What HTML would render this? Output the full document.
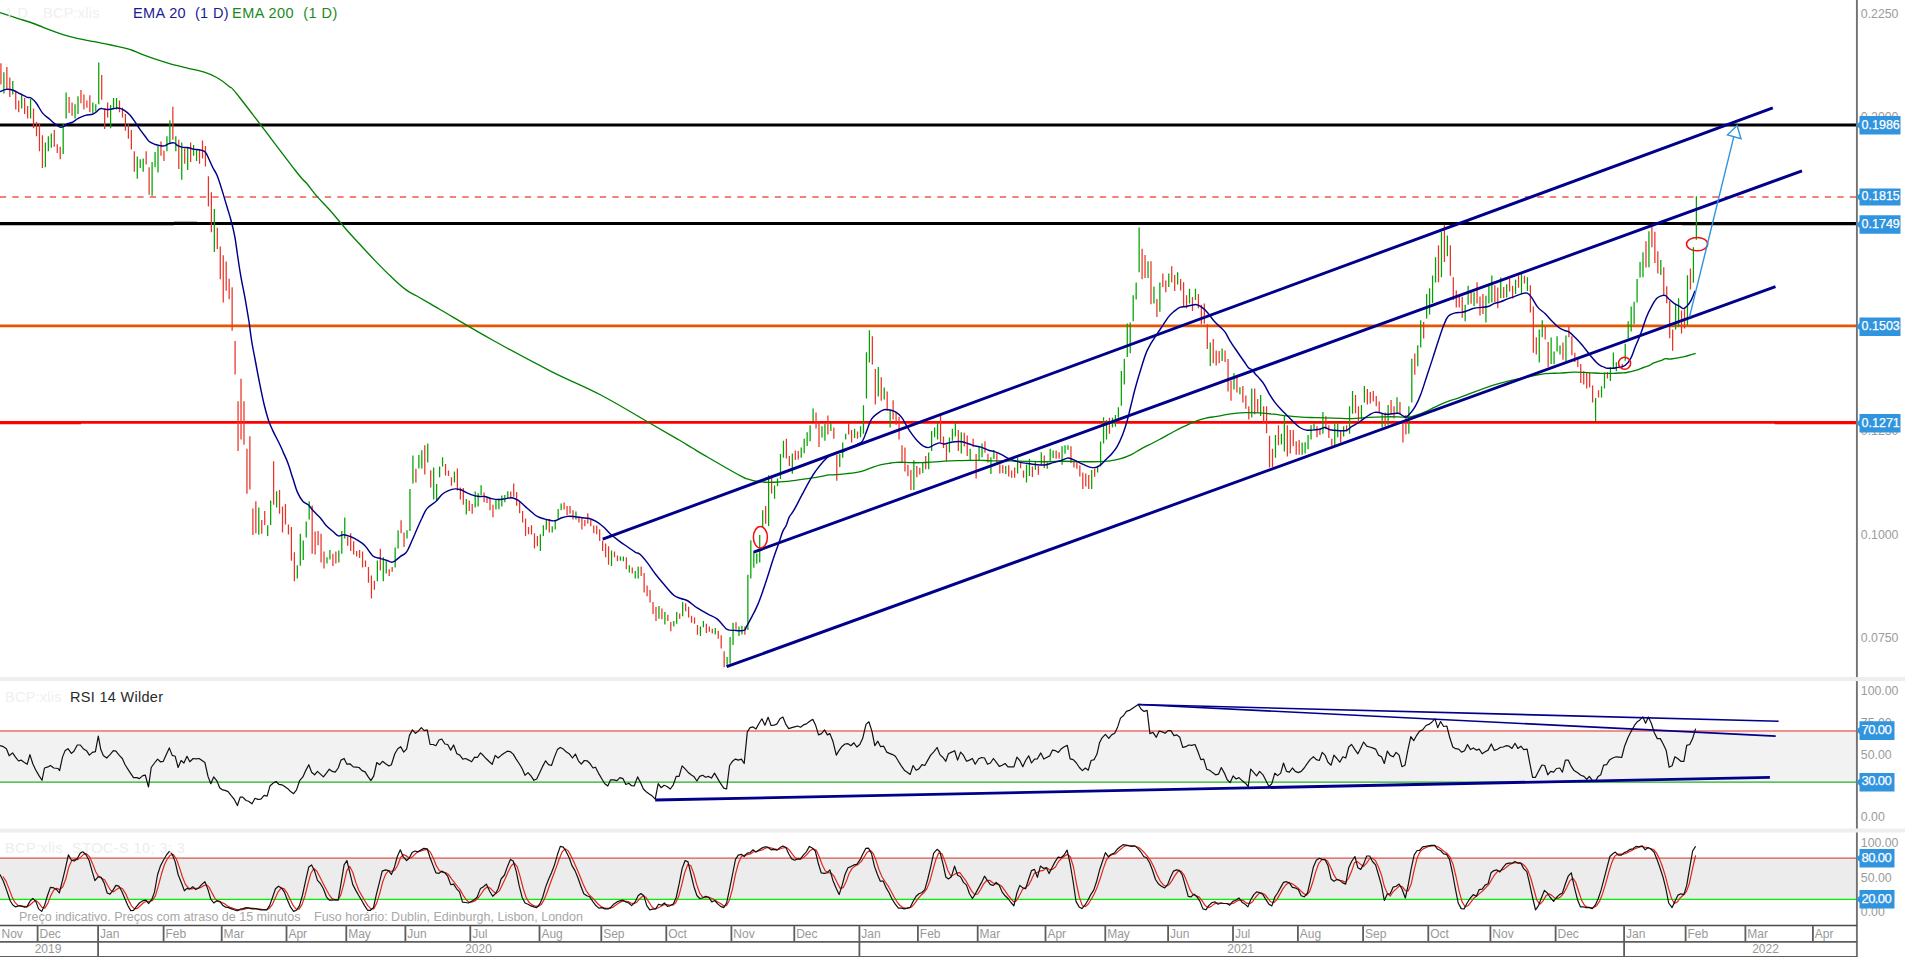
<!DOCTYPE html>
<html lang="pt"><head><meta charset="utf-8"><title>BCP:xlis</title>
<style>html,body{margin:0;padding:0;background:#fff;width:1905px;height:957px;overflow:hidden}</style>
</head><body>
<svg width="1905" height="957" viewBox="0 0 1905 957" style="position:absolute;left:0;top:0">
<rect x="0" y="731" width="1857" height="51" fill="#f2f2f2"/>
<rect x="0" y="858.2" width="1857" height="41.2" fill="#ececec"/>
<path d="M0 731H1857" stroke="#ee6e6a" stroke-width="1.3" fill="none"/>
<path d="M0 782.1H1857" stroke="#22b022" stroke-width="1.3" fill="none"/>
<path d="M0 858.2H1857" stroke="#d9534f" stroke-width="1.3" fill="none"/>
<path d="M0 899.4H1857" stroke="#00f000" stroke-width="1.4" fill="none"/>
<path d="M0 125H1857" stroke="#000" stroke-width="2.9" fill="none"/>
<path d="M0 223.45H1857M0 223.85H174M1681.7 223.85H1857M174 223.15H197" stroke="#000" stroke-width="2.9" fill="none"/>
<path d="M-0.2 196.9H1857" stroke="#ea5a50" stroke-width="1.5" stroke-dasharray="6.3 6.2" fill="none"/>
<path d="M0 325.8H1857" stroke="#e85400" stroke-width="2.7" fill="none"/>
<path d="M0 422.4H1857M0 422.85H81M1774.6 422.85H1857" stroke="#f00" stroke-width="2.8" fill="none"/>
<path d="M0.93 63.3V84.6M6.86 66.9V90.0M9.82 77.5V97.1M15.75 91.7V109.5M18.71 100.6V112.2M24.64 98.0V114.0M27.61 106.0V118.4M33.53 108.6V128.2M36.50 121.9V136.2M39.46 123.7V151.3M42.43 135.3V168.1M54.28 129.9V146.8M57.25 144.2V153.0M60.21 146.8V159.3M69.10 97.1V113.1M72.07 102.4V115.7M80.96 90.0V103.3M83.92 94.4V109.5M86.89 100.6V107.7M89.85 95.3V112.2M101.71 74.9V99.7M104.67 109.5V129.1M107.64 102.4V117.5M119.49 100.6V112.2M122.46 107.7V117.5M125.42 114.0V130.8M128.38 124.6V138.8M131.35 129.9V149.5M134.31 151.3V171.7M146.17 151.3V164.6M149.13 167.2V194.8M160.99 141.5V155.7M163.95 150.4V161.0M172.84 106.8V139.7M178.77 139.7V169.0M184.70 148.6V163.7M190.63 142.4V161.9M199.52 149.5V163.7M202.49 140.6V158.4M205.45 145.9V166.4M208.41 176.2V206.4M211.38 192.2V232.2M217.31 227.7V249.1M220.27 246.4V279.3M223.23 255.3V302.4M226.20 261.5V290.8M229.16 278.7V299.3M232.13 287.2V330.8M235.09 340.9V374.6M238.05 401.3V451.0M241.02 378.7V439.5M243.98 401.3V444.8M246.95 448.7V493.7M249.91 436.3V489.6M252.87 508.4V535.0M255.84 501.3V533.3M261.77 519.9V533.8M264.73 511.1V525.3M273.62 461.3V504.8M279.55 490.1V513.7M282.51 506.6V532.4M285.48 504.0V524.4M288.44 524.4V534.5M291.41 527.0V560.8M294.37 552.3V581.2M312.16 505.4V553.7M315.12 531.5V554.6M318.08 531.0V545.2M321.05 533.8V562.6M324.01 551.6V568.4M332.90 553.7V566.1M335.87 551.6V563.5M347.72 536.8V545.7M350.69 533.3V551.0M353.65 541.3V554.6M356.62 551.0V556.4M359.58 550.1V558.1M362.54 551.6V567.6M365.51 560.4V567.0M368.47 567.0V582.7M371.44 575.4V598.5M374.40 580.7V589.8M380.33 548.7V570.6M389.22 569.3V575.9M392.18 567.0V571.8M401.08 520.3V533.3M404.04 532.4V547.1M415.90 468.8V482.6M424.79 445.3V474.6M430.72 470.2V487.6M445.54 464.0V475.5M448.50 470.6V476.1M451.47 477.3V485.8M457.39 468.4V490.6M460.36 487.6V499.5M463.32 488.0V504.8M469.25 500.4V511.1M472.21 504.0V513.7M484.07 492.4V502.2M487.03 497.7V503.1M490.00 498.6V510.2M492.96 504.8V517.3M510.75 491.5V498.6M513.71 483.5V496.8M516.67 492.1V505.7M519.64 501.3V513.2M522.60 511.1V522.6M525.57 518.5V535.9M528.53 527.0V534.2M531.49 525.3V534.5M534.46 533.3V548.4M537.42 535.9V546.2M549.28 519.1V532.4M564.10 502.5V509.6M567.06 506.1V515.5M570.03 506.1V513.7M572.99 510.2V519.4M578.92 516.4V522.6M581.88 518.2V529.4M584.85 519.9V526.2M587.81 513.2V523.5M590.78 519.9V526.2M593.74 525.6V533.3M596.70 525.6V534.2M599.67 529.2V540.9M602.63 540.4V551.0M605.60 543.4V557.2M608.56 546.2V564.7M614.49 551.6V557.2M617.45 555.5V561.2M626.34 557.2V569.3M632.27 567.6V573.6M641.16 566.5V575.9M644.13 573.1V592.6M647.09 585.5V596.2M650.06 589.9V602.4M653.02 602.0V613.9M655.99 606.8V621.0M661.91 608.6V619.3M667.84 614.8V621.0M670.81 621.9V631.2M679.70 613.4V618.7M685.63 603.3V611.3M688.59 606.8V617.5M691.55 615.7V622.8M694.52 617.5V623.7M697.48 625.1V634.7M706.37 623.7V632.9M709.34 626.4V631.7M712.30 628.7V633.5M718.23 630.8V638.8M721.19 635.2V648.6M724.16 651.2V667.2M736.01 622.3V629.4M744.91 626.4V634.7M765.65 506.1V523.7M771.58 475.3V493.5M786.40 438.7V458.6M789.37 455.9V466.0M795.30 450.6V460.0M798.26 451.1V459.5M816.04 412.4V428.4M819.01 421.3V447.0M827.90 415.6V434.6M833.83 427.5V438.7M836.79 454.7V480.8M848.65 423.0V434.6M851.61 430.1V442.6M857.54 431.6V438.7M872.36 336.3V364.4M875.32 368.9V404.4M881.25 377.2V400.8M887.18 391.4V410.6M893.11 400.3V419.5M896.07 412.4V424.8M899.04 416.8V439.4M902.00 445.2V462.1M904.97 447.6V471.4M907.93 464.8V476.3M910.89 470.1V490.0M916.82 466.0V477.2M919.79 467.8V474.6M925.71 455.9V469.2M940.53 415.9V442.6M943.50 436.4V447.9M946.46 444.4V461.2M958.32 430.1V451.1M964.25 432.8V446.5M967.21 435.5V455.9M973.14 438.7V447.0M976.10 454.1V478.5M984.99 441.3V452.8M987.96 453.7V462.6M996.85 451.9V462.6M999.81 464.4V473.6M1002.78 465.2V473.2M1008.71 465.2V476.4M1011.67 470.6V477.7M1014.64 467.6V477.7M1020.56 461.7V468.3M1023.53 470.6V477.7M1032.42 466.5V477.1M1038.35 466.1V474.7M1044.28 455.5V467.9M1056.13 450.5V458.7M1059.10 452.3V458.7M1070.95 446.2V462.9M1073.92 460.8V467.6M1076.88 461.2V468.8M1079.84 465.2V476.4M1082.81 472.4V488.9M1085.77 473.6V486.6M1088.74 475.0V488.9M1094.66 468.8V476.8M1109.48 417.8V433.8M1142.09 248.8V279.3M1145.05 255.0V278.1M1150.98 261.2V304.2M1156.91 298.9V317.1M1162.84 273.6V286.9M1165.80 280.4V292.3M1171.73 266.2V282.5M1174.69 275.0V291.0M1180.62 279.0V290.5M1183.59 282.2V306.5M1186.55 295.3V308.3M1192.48 297.1V310.9M1198.41 294.1V308.3M1201.37 304.7V324.3M1204.33 303.5V323.7M1207.30 324.3V349.1M1213.23 339.0V363.3M1216.19 350.4V365.6M1219.15 350.9V363.3M1225.08 350.4V362.1M1228.05 359.1V391.4M1231.01 380.4V400.8M1236.94 376.8V392.5M1242.87 386.1V402.6M1245.83 395.5V408.8M1248.80 406.2V419.5M1254.72 388.4V414.2M1257.69 399.1V412.4M1263.62 406.2V423.0M1266.58 406.2V433.3M1269.54 435.8V467.5M1272.51 448.8V467.1M1278.44 425.2V445.2M1287.33 425.2V456.4M1290.29 430.1V453.6M1293.26 430.1V446.1M1296.22 441.2V454.7M1299.18 439.9V454.7M1316.97 426.2V437.2M1319.93 428.4V435.1M1325.86 416.3V429.3M1328.82 425.2V438.1M1331.79 438.7V445.8M1340.68 431.0V442.6M1346.61 425.2V431.6M1355.50 395.0V413.3M1358.46 406.2V422.7M1367.36 388.9V404.4M1370.32 391.9V403.5M1373.29 391.1V401.4M1376.25 396.0V406.2M1379.21 401.4V412.4M1385.14 412.4V426.2M1391.07 399.9V414.2M1394.03 406.2V418.6M1399.96 402.1V413.8M1402.93 423.9V442.6M1405.89 415.0V434.6M1414.78 353.4V374.7M1423.67 321.9V338.5M1438.49 245.2V282.2M1444.42 224.8V262.1M1450.35 245.2V275.8M1453.31 277.2V299.9M1456.28 290.5V307.4M1459.24 295.8V307.4M1462.21 296.7V317.7M1471.10 292.3V303.8M1477.03 282.2V303.5M1479.99 296.4V315.4M1482.95 294.1V314.1M1494.81 285.2V302.0M1497.78 287.5V308.3M1503.70 286.9V298.1M1509.63 279.0V291.4M1512.60 285.7V298.5M1518.52 275.4V287.8M1524.45 275.8V283.4M1530.38 285.2V312.4M1533.34 306.5V352.7M1536.31 337.2V354.5M1545.20 326.6V339.4M1548.16 342.0V366.9M1562.98 342.6V359.8M1568.91 326.9V337.2M1571.88 336.2V355.3M1574.84 352.7V362.1M1577.80 358.5V366.9M1580.77 363.9V382.9M1583.73 371.2V384.5M1586.70 372.5V388.5M1589.66 372.5V387.5M1592.62 385.4V402.6M1598.55 390.3V397.4M1607.45 372.1V378.6M1619.30 365.9V368.3M1622.27 364.0V367.5M1645.98 241.3V267.4M1651.91 226.4V247.2M1654.87 231.7V263.1M1657.83 251.2V273.4M1663.76 267.2V295.1M1666.73 286.2V303.3M1669.69 301.0V338.2M1672.65 329.4V350.7M1681.55 310.4V333.4M1684.51 309.3V328.5M1690.44 268.5V289.4" stroke="#ea3328" stroke-width="1.25" fill="none"/>
<path d="M3.89 72.2V93.5M12.79 81.1V94.4M21.68 94.4V108.6M30.57 98.9V118.4M45.39 142.4V167.2M48.35 136.2V151.3M51.32 133.5V147.7M63.18 123.7V153.9M66.14 92.6V118.4M75.03 104.2V118.4M78.00 96.2V114.0M92.82 102.4V113.1M95.78 104.2V111.3M98.74 62.4V104.2M110.60 105.1V128.2M113.56 98.0V108.6M116.53 98.0V109.5M137.28 156.6V178.8M140.24 159.3V168.1M143.20 158.4V171.7M152.10 161.9V195.7M155.06 152.1V167.2M158.02 145.9V172.6M166.92 136.2V151.3M169.88 120.2V144.2M175.81 136.2V151.3M181.74 142.4V179.7M187.67 146.8V169.9M193.59 145.0V155.7M196.56 149.5V161.0M214.34 209.1V252.1M258.80 507.5V534.7M267.69 525.3V535.9M270.66 500.4V524.9M276.59 491.2V507.5M297.33 565.2V578.6M300.30 533.8V565.8M303.26 540.4V559.9M306.23 521.4V537.4M309.19 501.3V519.6M326.98 557.2V563.5M329.94 550.1V559.4M338.83 550.5V562.6M341.80 531.0V553.7M344.76 517.6V538.6M377.36 560.4V581.2M383.29 557.2V581.2M386.26 561.2V573.6M395.15 547.5V567.6M398.11 530.2V548.4M407.00 530.2V538.6M409.97 488.9V531.0M412.93 455.6V483.5M418.86 455.1V468.4M421.83 450.3V468.4M427.75 443.6V462.6M433.68 467.5V499.5M436.65 484.1V500.0M439.61 466.6V477.3M442.57 457.2V466.6M454.43 471.6V482.6M466.29 499.0V514.6M475.18 491.5V507.5M478.14 493.3V506.6M481.11 485.3V495.1M495.93 499.5V509.6M498.89 498.6V509.3M501.85 495.4V506.6M504.82 495.1V502.2M507.78 491.2V498.3M540.39 534.2V551.0M543.35 525.3V535.9M546.32 519.9V529.7M552.24 526.2V532.4M555.21 520.8V529.4M558.17 508.9V519.9M561.14 503.6V510.2M575.96 511.4V519.6M611.52 550.5V566.1M620.42 556.4V560.8M623.38 556.4V561.2M629.31 565.2V572.4M635.24 571.1V578.6M638.20 566.5V578.6M658.95 605.9V618.7M664.88 612.1V624.6M673.77 621.0V626.4M676.73 612.1V623.7M682.66 602.0V616.2M700.45 626.4V636.1M703.41 621.0V627.2M715.27 628.1V634.4M727.12 657.1V666.7M730.09 637.0V663.7M733.05 622.8V645.0M738.98 626.4V636.1M741.94 625.8V634.4M747.87 574.8V629.9M750.83 540.2V578.4M753.80 551.7V567.7M756.76 553.5V563.7M759.73 534.9V562.4M762.69 510.2V527.3M768.62 475.3V526.0M774.55 485.5V498.7M777.51 478.6V486.2M780.48 454.1V479.0M783.44 440.8V457.7M792.33 453.6V473.7M801.22 447.6V457.7M804.19 438.7V453.2M807.15 432.3V446.1M810.12 425.2V441.2M813.08 408.5V421.3M821.97 426.2V437.6M824.94 423.9V440.8M830.86 423.0V431.0M839.76 454.1V467.1M842.72 442.6V457.7M845.68 433.7V439.4M854.58 428.7V438.1M860.50 426.2V437.2M863.47 405.3V433.7M866.43 352.3V398.5M869.40 330.3V362.6M878.29 367.1V396.4M884.22 387.5V399.6M890.14 410.6V427.5M913.86 460.3V490.0M922.75 463.0V473.1M928.68 452.4V469.2M931.64 431.0V451.1M934.61 427.5V437.2M937.57 422.7V439.4M949.43 437.6V452.4M952.39 428.7V440.8M955.35 422.7V436.4M961.28 432.3V453.6M970.17 448.8V460.3M979.07 447.0V460.3M982.03 443.4V457.2M990.92 457.2V474.1M993.89 450.1V459.0M1005.74 466.1V474.1M1017.60 458.1V473.6M1026.49 464.4V482.5M1029.46 458.7V475.9M1035.38 460.8V469.7M1041.31 452.3V465.2M1047.24 462.6V468.8M1050.20 448.7V462.2M1053.17 450.5V458.1M1062.06 446.2V464.7M1065.02 445.2V453.7M1067.99 445.2V450.1M1091.70 470.0V488.9M1097.63 465.8V472.4M1100.59 441.6V466.5M1103.56 417.3V443.4M1106.52 419.9V439.5M1112.45 417.8V427.4M1115.41 415.0V426.7M1118.38 407.2V417.8M1121.34 371.1V405.7M1124.30 358.7V384.4M1127.27 323.4V357.1M1130.23 322.5V353.2M1133.20 295.3V321.2M1136.16 282.5V299.4M1139.13 227.4V272.2M1148.02 261.2V278.1M1153.95 286.4V303.5M1159.87 282.5V311.8M1168.77 273.6V286.9M1177.66 272.2V284.6M1189.51 288.7V303.5M1195.44 288.7V299.9M1210.26 342.6V366.0M1222.12 348.6V361.0M1233.97 373.3V389.6M1239.90 387.2V394.3M1251.76 388.4V417.4M1260.65 395.0V415.9M1275.47 435.1V457.7M1281.40 433.7V444.4M1284.36 415.0V451.5M1302.15 442.6V454.7M1305.11 442.2V453.6M1308.08 435.1V449.3M1311.04 425.2V439.4M1314.00 423.4V430.1M1322.90 412.0V433.7M1334.75 423.4V445.2M1337.72 423.4V437.2M1343.64 426.2V436.4M1349.57 406.2V433.7M1352.54 391.1V413.8M1361.43 404.9V419.5M1364.39 386.1V402.6M1382.18 413.8V427.5M1388.11 404.9V424.8M1397.00 397.3V413.3M1408.85 406.2V433.7M1411.82 358.7V402.6M1417.75 345.2V366.2M1420.71 320.2V347.4M1426.64 294.1V318.4M1429.60 288.2V314.5M1432.57 275.4V302.9M1435.53 257.3V282.5M1441.46 231.9V277.2M1447.39 235.4V256.2M1465.17 304.7V321.2M1468.13 285.7V304.7M1474.06 292.3V306.0M1485.92 295.8V322.5M1488.88 286.1V303.5M1491.85 275.4V302.4M1500.74 277.5V298.1M1506.67 284.3V297.6M1515.56 279.8V294.1M1521.49 274.0V293.2M1527.42 277.2V291.0M1539.27 329.6V362.5M1542.24 320.2V337.2M1551.13 337.6V363.9M1554.09 351.4V364.2M1557.06 336.2V351.4M1560.02 345.6V354.5M1565.95 335.4V361.0M1595.59 397.9V421.0M1601.52 386.3V397.6M1604.48 372.5V388.5M1610.41 367.2V381.0M1613.37 352.6V368.3M1616.34 362.3V371.2M1625.23 343.8V360.7M1628.19 321.2V338.5M1631.16 306.5V331.4M1634.12 301.7V324.3M1637.09 279.0V302.4M1640.05 262.1V277.5M1643.01 252.3V277.2M1648.94 231.2V267.2M1660.80 260.1V274.9M1675.62 304.5V329.4M1678.58 298.3V326.7M1687.47 275.2V324.9M1693.40 247.2V282.7M1696.37 196.2V239.7" stroke="#00a400" stroke-width="1.25" fill="none"/>
<path d="M0.0 12.6C3.0 13.6 10.8 16.1 16.8 18.1C22.8 20.1 27.6 21.3 33.6 23.5C39.6 25.7 45.0 28.1 50.4 30.2C55.8 32.3 59.0 33.4 63.8 34.9C68.6 36.4 71.9 37.1 77.3 38.3C82.7 39.5 88.0 40.5 94.0 41.7C100.0 42.9 105.1 43.8 110.9 45.0C116.7 46.2 122.3 47.5 126.0 48.4C129.7 49.3 128.6 48.9 131.5 50.0C134.4 51.1 138.0 52.8 142.1 54.4C146.3 56.0 149.8 57.3 154.6 58.9C159.4 60.5 163.0 61.7 168.8 63.3C174.5 64.9 180.1 66.2 186.5 67.8C192.9 69.4 198.9 70.4 204.3 72.2C209.7 74.0 212.3 75.0 216.7 77.5C221.2 80.1 225.0 82.7 229.2 86.4C233.4 90.1 228.1 82.9 240.0 98.0C251.9 113.0 283.1 154.6 295.0 170.0C307.0 185.4 302.6 178.5 306.6 183.3C310.6 188.1 313.1 191.9 317.2 196.6C321.4 201.4 325.5 205.3 329.7 210.0C333.8 214.6 336.5 217.9 340.3 222.4C344.2 226.9 346.8 230.2 351.0 234.8C355.2 239.5 359.1 243.5 363.4 248.2C367.8 252.8 370.0 255.5 375.0 260.6C379.9 265.7 385.4 271.3 391.0 276.6C396.6 281.9 401.1 286.2 406.1 289.9C411.0 293.6 414.0 294.5 418.5 297.0C423.0 299.6 427.1 301.9 430.9 304.1C434.8 306.4 428.9 303.0 440.0 309.5C451.1 315.9 472.4 328.9 492.4 340.0C512.4 351.1 531.5 361.4 551.0 371.3C570.5 381.2 582.9 385.6 600.8 395.0C618.7 404.4 636.4 415.4 650.5 423.5C664.6 431.6 671.5 435.6 679.1 440.0C686.6 444.4 687.7 445.2 692.4 448.0C697.1 450.8 696.4 450.7 705.0 455.6C713.6 460.6 732.1 471.4 740.0 475.6C747.9 479.9 745.5 478.3 748.9 479.4C752.3 480.5 755.0 481.0 758.7 481.6C762.3 482.1 765.4 482.3 769.3 482.4C773.2 482.4 776.1 482.2 780.4 481.9C784.7 481.6 788.4 481.3 793.3 480.7C798.2 480.1 804.3 479.1 807.5 478.6C810.7 478.2 808.8 478.6 811.0 478.2C813.2 477.8 816.7 477.3 819.9 476.7C823.1 476.1 826.6 475.2 828.8 474.9C831.0 474.6 829.2 475.1 832.4 474.9C835.6 474.7 841.5 474.3 846.6 473.7C851.6 473.1 856.2 472.6 860.4 471.6C864.6 470.6 866.1 469.6 869.7 468.3C873.3 467.1 876.5 465.7 880.3 464.8C884.2 463.8 887.5 463.5 891.0 463.0C894.5 462.5 896.4 462.2 899.9 462.1C903.4 462.1 906.7 462.6 910.5 462.7C914.4 462.8 917.4 462.8 921.2 462.7C925.0 462.6 927.7 462.4 931.9 462.1C936.0 461.9 939.8 461.5 944.3 461.2C948.8 461.0 952.3 460.9 956.7 460.7C961.2 460.5 965.0 460.4 969.2 460.3C973.4 460.3 975.8 460.3 980.0 460.3C984.3 460.4 987.3 460.7 992.8 460.8C998.3 460.9 1004.1 460.7 1010.5 460.8C1016.9 460.9 1021.9 461.2 1028.3 461.3C1034.7 461.5 1039.7 461.7 1046.1 461.7C1052.5 461.7 1057.4 461.2 1063.8 461.2C1070.2 461.2 1075.2 461.6 1081.6 461.7C1088.0 461.8 1094.2 461.9 1099.4 461.7C1104.5 461.5 1106.2 461.3 1110.0 460.8C1113.9 460.3 1116.8 459.8 1120.7 458.7C1124.5 457.6 1127.5 456.4 1131.3 454.6C1135.2 452.7 1138.2 450.4 1142.0 448.4C1145.8 446.3 1148.8 445.0 1152.7 443.0C1156.5 441.1 1159.5 439.4 1163.3 437.4C1167.1 435.3 1170.1 433.5 1174.0 431.5C1177.8 429.5 1180.8 428.0 1184.6 426.2C1188.5 424.3 1191.5 422.8 1195.3 421.4C1199.1 419.9 1202.4 419.0 1205.9 418.2C1209.5 417.3 1212.5 417.1 1215.0 416.7C1217.5 416.3 1217.2 416.5 1220.0 415.9C1222.8 415.4 1226.2 414.4 1230.7 413.8C1235.1 413.2 1239.8 412.9 1244.9 412.7C1250.0 412.6 1254.0 412.7 1259.1 412.9C1264.2 413.2 1268.2 413.6 1273.3 414.2C1278.4 414.7 1282.4 415.4 1287.5 415.9C1292.6 416.5 1296.6 416.9 1301.7 417.2C1306.8 417.5 1310.2 417.5 1315.9 417.7C1321.7 417.9 1327.3 417.9 1333.7 418.1C1340.1 418.2 1345.1 418.7 1351.5 418.6C1357.9 418.5 1363.5 417.7 1369.2 417.4C1375.0 417.0 1378.3 416.9 1383.4 416.8C1388.6 416.7 1393.2 416.7 1397.7 416.8C1402.1 416.9 1404.8 417.7 1408.3 417.4C1411.8 417.0 1413.7 416.3 1417.2 415.0C1420.7 413.8 1424.0 412.4 1427.9 410.6C1431.7 408.8 1434.7 407.0 1438.5 405.3C1442.3 403.5 1445.3 402.3 1449.2 400.8C1453.1 399.4 1451.8 400.3 1460.3 397.3C1468.7 394.3 1483.3 388.2 1496.0 384.4C1508.7 380.6 1522.0 378.2 1530.8 376.3C1539.6 374.4 1539.8 374.2 1545.0 373.6C1550.2 373.1 1554.5 373.4 1559.6 373.2C1564.7 372.9 1568.4 372.3 1573.4 372.2C1578.3 372.1 1582.2 372.4 1587.1 372.6C1592.1 372.8 1596.3 373.1 1600.9 373.3C1605.6 373.4 1608.9 373.4 1612.9 373.4C1616.9 373.3 1620.7 372.9 1623.2 372.8C1625.6 372.6 1624.5 372.9 1626.6 372.5C1628.7 372.1 1631.6 371.5 1634.7 370.6C1637.7 369.7 1640.8 368.5 1643.6 367.5C1646.3 366.5 1648.3 365.9 1650.0 365.1C1651.8 364.3 1651.1 364.1 1653.3 363.2C1655.5 362.3 1659.9 360.9 1662.1 360.1C1664.3 359.3 1663.9 358.8 1665.5 358.6C1667.1 358.5 1667.8 359.3 1671.0 359.0C1674.2 358.7 1678.8 357.9 1683.3 356.9C1687.7 355.9 1693.4 354.0 1695.7 353.3" stroke="#008000" stroke-width="1.35" fill="none" stroke-linejoin="round"/>
<path d="M0.0 91.7C1.1 91.3 4.0 89.8 6.2 89.4C8.5 89.1 10.0 89.2 12.4 90.0C14.8 90.7 17.0 92.2 19.5 93.5C22.1 94.8 24.6 96.3 26.6 97.1C28.7 97.9 29.3 96.8 31.1 98.0C32.8 99.1 34.3 100.6 36.4 103.3C38.5 106.0 40.2 110.2 42.6 113.1C45.0 115.9 47.3 117.2 49.7 119.3C52.1 121.4 54.0 123.2 56.0 124.6C57.9 126.1 59.0 127.0 60.4 127.3C61.8 127.6 62.7 127.0 64.0 126.4C65.2 125.8 66.1 124.4 67.5 123.7C68.9 123.0 70.0 123.4 71.9 122.5C73.9 121.5 75.8 119.7 78.2 118.4C80.6 117.1 82.7 116.1 85.3 115.4C87.8 114.6 90.5 114.9 92.4 114.3C94.3 113.7 94.7 113.1 95.9 112.2C97.2 111.2 98.4 109.6 99.5 109.0C100.6 108.3 100.9 108.5 102.1 108.6C103.4 108.7 105.0 109.4 106.6 109.5C108.2 109.6 109.3 109.4 111.0 109.2C112.8 108.9 114.6 108.2 116.4 108.1C118.1 108.0 119.4 108.2 120.8 108.6C122.2 109.0 122.8 109.3 124.4 110.4C126.0 111.5 127.8 112.8 129.7 114.8C131.6 116.9 133.1 119.2 135.0 121.9C136.9 124.7 138.4 127.2 140.3 129.9C142.3 132.7 144.1 135.0 145.7 137.0C147.3 139.1 147.6 140.2 149.2 141.5C150.8 142.8 152.6 143.4 154.6 144.2C156.5 144.9 158.1 145.3 159.9 145.6C161.6 145.9 162.7 146.3 164.3 145.9C165.9 145.6 167.0 144.2 168.8 143.6C170.5 143.1 172.5 142.6 174.1 142.9C175.7 143.3 176.1 144.8 177.7 145.6C179.3 146.4 181.1 147.0 183.0 147.4C184.9 147.7 186.4 147.4 188.3 147.7C190.2 148.0 191.7 148.7 193.6 149.1C195.6 149.5 197.1 149.5 199.0 149.8C200.9 150.2 202.9 150.4 204.3 151.3C205.7 152.2 205.5 152.0 207.0 154.8C208.4 157.6 210.6 163.2 212.4 166.8C214.1 170.5 215.1 170.8 216.8 174.8C218.5 178.8 219.9 183.3 221.7 189.1C223.5 194.8 225.3 201.2 227.0 206.8C228.7 212.4 229.6 215.1 231.0 220.3C232.4 225.5 233.5 229.8 234.6 235.7C235.8 241.7 236.2 246.1 237.3 253.5C238.4 260.9 239.4 268.3 240.9 276.6C242.3 284.9 243.9 291.7 245.3 299.7C246.7 307.7 247.7 313.7 248.9 321.0C250.0 328.3 250.4 333.1 251.5 340.0C252.6 346.9 253.6 351.9 255.1 359.5C256.5 367.2 257.9 374.6 259.5 382.6C261.1 390.6 262.4 397.2 264.0 404.0C265.6 410.7 266.8 415.1 268.4 419.9C270.0 424.7 270.8 426.1 272.8 430.6C274.9 435.1 278.1 440.9 279.9 444.8C281.8 448.7 281.9 449.2 283.3 452.4C284.7 455.7 286.1 458.0 287.8 462.8C289.6 467.6 291.3 473.8 293.1 479.1C294.8 484.4 295.7 488.4 297.5 492.4C299.3 496.4 300.9 499.1 302.8 501.3C304.8 503.5 306.2 503.1 308.2 504.8C310.1 506.6 311.3 508.7 313.5 511.1C315.7 513.5 318.4 515.6 320.6 518.2C322.8 520.7 323.7 522.9 325.9 525.3C328.2 527.7 330.8 529.6 333.0 531.5C335.3 533.4 336.4 535.4 338.4 535.9C340.3 536.5 341.5 534.5 343.7 534.7C345.9 534.8 348.2 535.8 350.8 536.8C353.4 537.8 355.4 538.8 357.9 540.4C360.5 542.0 362.8 543.5 365.0 545.7C367.3 547.9 368.7 550.8 370.3 552.8C371.9 554.8 372.0 555.7 373.9 556.7C375.8 557.8 378.8 558.0 381.0 558.7C383.2 559.3 384.4 559.6 386.3 560.3C388.3 560.9 390.1 562.1 391.7 562.2C393.3 562.3 393.6 561.9 395.2 560.8C396.8 559.7 398.6 557.8 400.5 556.4C402.5 554.9 404.3 554.6 405.9 552.8C407.5 551.0 407.8 549.9 409.4 546.6C411.0 543.2 412.5 539.3 414.8 534.2C417.0 529.0 419.6 522.8 421.9 518.2C424.1 513.5 424.6 511.4 427.2 508.4C429.8 505.4 433.4 503.8 436.1 501.3C438.8 498.7 440.1 496.1 442.3 494.2C444.5 492.3 446.3 491.6 448.5 490.6C450.7 489.7 452.5 489.0 454.7 488.9C457.0 488.7 459.1 489.2 460.9 489.7C462.8 490.3 463.2 491.0 465.0 491.9C466.8 492.8 468.5 493.8 471.1 494.6C473.6 495.5 476.8 496.2 479.2 496.5C481.6 496.8 482.3 496.1 484.5 496.5C486.8 496.9 489.1 498.1 491.6 498.6C494.2 499.2 496.2 499.5 498.8 499.5C501.3 499.5 503.5 498.9 505.9 498.6C508.3 498.3 509.8 497.4 512.1 497.7C514.3 498.1 515.9 498.8 518.3 500.4C520.7 502.0 522.8 504.4 525.4 506.6C528.0 508.9 530.3 511.0 532.5 512.8C534.7 514.7 535.6 515.6 537.8 516.7C540.1 517.9 542.4 518.3 544.9 519.1C547.5 519.8 550.0 520.6 552.0 520.8C554.1 521.1 554.7 520.8 556.5 520.3C558.2 519.8 559.7 518.5 561.8 517.8C563.9 517.1 565.6 516.6 568.0 516.4C570.4 516.2 572.6 516.5 575.1 516.7C577.7 517.0 579.7 517.5 582.2 517.8C584.8 518.1 586.8 517.8 589.4 518.5C591.9 519.2 593.9 520.2 596.5 521.7C599.0 523.3 601.0 524.8 603.6 527.0C606.1 529.3 607.8 531.6 610.7 534.2C613.6 536.7 616.4 538.9 619.6 541.3C622.8 543.7 625.6 545.5 628.4 547.5C631.3 549.5 633.5 551.0 635.5 552.3C637.6 553.5 637.9 552.5 640.0 554.3C642.1 556.1 644.2 558.7 647.1 562.4C650.0 566.1 652.8 570.7 656.0 574.8C659.2 579.0 661.7 581.8 664.9 585.5C668.1 589.2 670.9 592.9 673.8 595.3C676.6 597.6 678.3 597.4 680.9 598.5C683.4 599.5 685.1 599.3 688.0 601.0C690.8 602.6 693.3 605.4 696.8 607.7C700.4 610.0 704.0 612.0 707.5 613.9C711.0 615.8 713.8 616.6 716.4 618.4C718.9 620.1 719.8 621.7 721.7 623.7C723.6 625.7 724.8 628.2 727.0 629.4C729.3 630.6 731.1 630.3 734.2 630.4C737.2 630.6 741.7 631.2 743.9 630.4C746.2 629.7 745.2 628.9 746.6 626.4C748.0 623.9 750.0 620.3 751.9 616.6C753.8 612.9 755.3 610.4 757.2 605.9C759.2 601.5 760.7 597.2 762.6 591.7C764.5 586.3 766.0 581.6 767.9 575.7C769.8 569.8 771.3 564.6 773.2 558.9C775.2 553.1 776.8 548.7 778.6 543.8C780.3 538.8 781.4 534.7 782.8 531.4C784.2 528.1 785.0 528.1 786.2 525.5C787.4 522.9 787.8 519.9 789.2 517.1C790.6 514.4 791.6 514.3 793.9 510.2C796.3 506.1 799.1 500.2 802.2 494.4C805.3 488.6 808.5 482.5 811.1 478.1C813.6 473.7 814.2 473.2 816.4 470.1C818.6 467.1 820.9 464.0 823.5 461.2C826.1 458.5 828.2 456.6 830.6 455.0C833.0 453.4 834.6 453.0 836.8 452.4C839.1 451.7 840.6 452.3 843.0 451.5C845.4 450.7 847.6 449.2 850.1 447.9C852.7 446.6 855.0 445.6 857.2 444.4C859.5 443.1 860.8 443.4 862.6 440.8C864.3 438.2 865.4 434.0 867.0 430.1C868.6 426.2 869.5 422.2 871.5 419.1C873.4 416.1 875.4 415.0 877.7 413.3C879.9 411.6 881.5 410.3 883.9 409.7C886.3 409.2 888.8 409.8 891.0 410.2C893.2 410.7 894.4 411.1 896.3 412.4C898.3 413.7 899.7 414.8 901.7 417.4C903.6 419.9 905.1 423.5 907.0 426.6C908.9 429.7 910.4 432.0 912.3 434.6C914.2 437.2 915.7 439.1 917.7 441.2C919.6 443.2 921.1 444.6 923.0 445.8C924.9 446.9 926.4 447.6 928.3 447.6C930.2 447.5 931.7 446.1 933.6 445.2C935.6 444.4 937.1 443.2 939.0 442.9C940.9 442.7 942.4 444.1 944.3 444.0C946.2 443.9 947.7 443.0 949.6 442.6C951.5 442.2 952.7 441.9 955.0 441.7C957.2 441.5 959.5 441.3 962.1 441.7C964.6 442.1 966.9 443.3 969.2 444.0C971.4 444.7 972.4 445.2 974.5 445.8C976.6 446.3 978.4 446.2 981.1 447.1C983.7 447.9 986.8 449.7 989.2 450.5C991.6 451.3 992.3 450.8 994.5 451.6C996.8 452.3 999.1 453.3 1001.6 454.6C1004.2 455.9 1006.2 457.5 1008.8 458.7C1011.3 459.9 1013.3 460.4 1015.9 461.2C1018.4 461.9 1020.4 462.5 1023.0 462.9C1025.5 463.4 1027.5 463.5 1030.1 463.8C1032.6 464.1 1034.3 464.6 1037.2 464.7C1040.1 464.9 1043.2 465.1 1046.1 464.7C1048.9 464.3 1050.6 463.3 1053.2 462.6C1055.7 461.9 1057.7 461.6 1060.3 460.8C1062.8 460.0 1065.1 458.4 1067.4 458.1C1069.6 457.9 1070.5 458.5 1072.7 459.4C1074.9 460.2 1077.3 461.7 1079.8 462.9C1082.4 464.1 1084.7 465.3 1086.9 466.1C1089.2 467.0 1090.5 467.4 1092.2 467.6C1094.0 467.7 1095.1 467.8 1096.7 467.2C1098.3 466.6 1099.4 465.8 1101.1 464.4C1102.9 462.9 1104.5 460.9 1106.5 459.0C1108.4 457.1 1109.9 455.9 1111.8 453.7C1113.7 451.5 1115.2 449.9 1117.1 446.6C1119.0 443.2 1120.7 439.5 1122.5 435.0C1124.2 430.6 1125.3 427.3 1126.9 421.7C1128.5 416.1 1129.7 410.3 1131.3 404.0C1132.9 397.6 1134.0 392.5 1135.8 386.2C1137.5 379.9 1139.0 375.0 1140.9 369.0C1142.8 362.9 1144.4 357.2 1146.3 352.6C1148.1 347.9 1149.1 346.7 1151.1 343.2C1153.2 339.7 1155.5 336.4 1157.6 333.1C1159.8 329.9 1161.0 328.0 1163.0 325.1C1164.9 322.3 1166.4 319.5 1168.3 317.1C1170.2 314.8 1171.5 313.6 1173.6 311.8C1175.7 310.1 1177.6 308.3 1179.8 307.4C1182.1 306.4 1184.0 306.9 1186.1 306.5C1188.1 306.1 1189.5 305.6 1191.4 305.2C1193.3 304.9 1194.8 304.3 1196.7 304.7C1198.6 305.1 1200.1 306.0 1202.0 307.4C1204.0 308.8 1205.1 309.8 1207.4 312.4C1209.6 314.9 1212.1 318.9 1214.5 321.6C1216.9 324.3 1218.8 325.5 1220.8 327.5C1222.7 329.4 1223.7 330.1 1225.3 332.4C1226.9 334.8 1227.6 337.0 1229.7 340.3C1231.7 343.7 1234.2 347.2 1236.8 351.0C1239.3 354.8 1241.8 358.3 1243.9 361.2C1246.0 364.2 1246.8 365.9 1248.2 367.4C1249.7 369.0 1250.7 368.6 1252.0 369.7C1253.3 370.9 1253.9 372.3 1255.3 374.0C1256.8 375.7 1258.2 377.0 1259.9 379.0C1261.5 380.9 1262.6 382.0 1264.4 384.8C1266.2 387.7 1267.8 391.4 1269.7 394.6C1271.7 397.8 1273.0 399.9 1275.1 402.6C1277.2 405.3 1279.1 407.3 1281.3 409.7C1283.5 412.1 1285.3 413.7 1287.5 415.9C1289.7 418.2 1291.5 420.1 1293.7 422.1C1296.0 424.2 1297.7 426.0 1299.9 427.5C1302.2 428.9 1303.9 429.7 1306.2 430.1C1308.4 430.6 1310.0 430.3 1312.4 430.1C1314.8 430.0 1317.2 429.7 1319.5 429.3C1321.7 428.8 1322.9 427.4 1324.8 427.5C1326.7 427.6 1327.9 429.2 1330.1 429.8C1332.4 430.3 1334.4 430.4 1337.2 430.5C1340.1 430.6 1343.6 431.2 1346.1 430.5C1348.7 429.8 1349.2 428.0 1351.5 426.6C1353.7 425.2 1356.3 424.1 1358.6 422.7C1360.8 421.2 1362.0 420.0 1363.9 418.6C1365.8 417.2 1367.3 416.2 1369.2 415.0C1371.1 413.9 1372.6 412.8 1374.6 412.4C1376.5 412.0 1378.0 412.4 1379.9 412.7C1381.8 413.1 1383.0 414.0 1385.2 414.2C1387.5 414.3 1389.9 414.0 1392.3 413.8C1394.7 413.6 1396.6 412.9 1398.5 413.3C1400.5 413.7 1401.5 415.3 1403.0 415.9C1404.4 416.6 1405.1 417.5 1406.5 416.8C1408.0 416.2 1409.4 414.3 1411.0 412.4C1412.6 410.5 1413.7 409.4 1415.4 406.2C1417.2 403.0 1418.7 400.1 1420.7 394.6C1422.8 389.2 1424.8 382.1 1426.9 375.9C1429.0 369.6 1430.3 365.8 1432.2 359.9C1434.2 354.0 1435.5 349.3 1437.6 343.0C1439.7 336.7 1441.8 330.0 1443.8 325.1C1445.7 320.3 1446.3 318.4 1448.2 316.3C1450.1 314.1 1452.0 313.8 1454.4 313.1C1456.8 312.4 1459.3 312.7 1461.5 312.4C1463.8 312.0 1464.6 311.7 1466.8 310.9C1469.1 310.2 1471.4 308.9 1474.0 308.3C1476.5 307.6 1478.5 307.7 1481.1 307.4C1483.6 307.1 1485.9 307.1 1488.2 306.5C1490.4 305.9 1491.3 304.7 1493.5 303.8C1495.7 303.0 1498.0 302.6 1500.6 301.7C1503.2 300.8 1505.2 299.8 1507.7 298.9C1510.3 297.9 1512.3 297.3 1514.8 296.4C1517.4 295.4 1519.7 294.3 1521.9 293.7C1524.2 293.1 1525.5 292.5 1527.2 293.2C1529.0 293.9 1529.8 295.0 1531.7 297.6C1533.6 300.2 1535.5 304.5 1537.9 307.4C1540.3 310.3 1542.5 311.1 1545.0 313.6C1547.6 316.1 1549.6 318.7 1552.1 321.2C1554.7 323.8 1557.0 326.1 1559.2 327.8C1561.5 329.5 1562.8 329.7 1564.6 330.5C1566.3 331.2 1567.1 330.6 1569.0 331.9C1570.9 333.2 1572.8 335.2 1575.2 337.6C1577.6 340.0 1579.7 342.3 1582.3 345.3C1584.8 348.3 1586.9 351.2 1589.4 354.2C1591.8 357.2 1593.9 359.8 1596.0 361.9C1598.1 364.0 1599.5 365.0 1600.9 365.9C1602.3 366.8 1602.7 366.5 1603.6 366.9C1604.6 367.3 1605.2 367.9 1606.2 368.1C1607.2 368.3 1607.7 368.1 1609.0 368.1C1610.2 368.2 1611.7 368.4 1613.3 368.3C1614.9 368.2 1616.6 367.6 1617.9 367.4C1619.1 367.2 1619.1 367.6 1620.4 367.2C1621.7 366.8 1623.5 366.8 1625.3 365.3C1627.2 363.7 1628.8 362.0 1630.6 358.6C1632.5 355.2 1633.6 350.9 1635.5 346.3C1637.3 341.8 1638.9 338.6 1640.8 333.5C1642.7 328.4 1644.4 322.5 1646.1 317.9C1647.9 313.4 1648.8 311.6 1650.7 308.2C1652.5 304.7 1654.6 300.9 1656.6 298.6C1658.7 296.4 1660.4 296.2 1662.0 295.6C1663.6 295.1 1664.2 295.0 1665.5 295.6C1666.8 296.3 1667.5 297.7 1669.1 299.2C1670.7 300.6 1672.5 302.3 1674.4 303.6C1676.3 304.9 1678.1 305.4 1679.7 306.3C1681.3 307.2 1682.0 308.6 1683.3 308.6C1684.5 308.6 1685.4 307.8 1686.8 306.3C1688.2 304.7 1689.8 302.8 1691.2 300.1C1692.7 297.3 1694.3 292.6 1695.0 290.9" stroke="#00008b" stroke-width="1.45" fill="none" stroke-linejoin="round"/>
<g stroke="#00008b" stroke-width="2.9" fill="none" stroke-linecap="butt">
<path d="M602.7 539.1L1772.8 107.9"/>
<path d="M753.7 552.1L1802 170.9"/>
<path d="M726.7 666.7L1775.5 286.6"/>
</g>
<g stroke="#ee1111" stroke-width="1.5" fill="none">
<ellipse cx="760.4" cy="537.3" rx="7" ry="10.7"/>
<ellipse cx="1624.6" cy="363.2" rx="6" ry="6"/>
<ellipse cx="1697.1" cy="244.1" rx="10.6" ry="6.7"/>
</g>
<path d="M1689.5 316.9L1733.7 137.1" stroke="#2e93dd" stroke-width="1.4" fill="none"/>
<path d="M1737.1 125.6L1727.5 134.8L1741 138.7Z" stroke="#2e93dd" stroke-width="1.4" fill="#fff" stroke-linejoin="miter"/>
<path d="M0.0 745.7L3.4 746.7L6.4 748.7L9.2 755.8L12.6 752.9L15.5 757.1L18.5 761.0L21.0 760.1L24.4 762.5L27.2 764.3L29.9 754.6L32.8 763.8L35.6 769.7L39.0 775.6L42.0 780.3L44.5 768.0L47.9 766.9L50.4 765.5L53.8 768.0L58.0 768.5L59.6 770.6L62.5 757.1L65.2 750.4L68.0 748.7L71.4 753.4L73.9 751.2L77.3 745.0L80.3 745.0L83.2 748.7L86.5 750.7L89.4 755.1L92.4 752.4L95.4 751.7L98.3 736.1L100.8 749.6L103.3 755.4L106.7 758.0L110.0 754.6L113.4 750.7L115.9 751.2L119.3 755.4L122.3 758.5L125.1 764.7L129.3 771.4L133.5 777.6L136.9 777.6L139.4 778.6L142.8 775.6L145.3 775.1L148.5 787.0L151.2 767.5L154.5 763.0L157.6 759.1L160.4 761.8L163.3 761.3L166.3 754.6L169.3 747.9L172.2 755.4L175.2 756.3L178.1 767.5L181.1 760.5L183.9 763.0L187.0 756.3L189.8 761.8L193.2 758.5L195.7 758.8L199.1 758.5L202.4 760.8L204.9 762.5L208.0 776.4L210.8 783.7L213.7 776.9L216.7 780.6L219.7 787.7L222.6 789.9L225.1 790.4L228.1 791.6L231.0 795.4L234.3 799.4L237.4 805.5L240.2 797.1L242.7 797.1L246.1 800.5L248.6 801.3L252.0 803.8L255.0 798.3L257.9 799.4L260.9 799.1L264.1 795.4L267.1 796.1L270.1 785.7L273.0 783.2L276.0 781.5L278.9 784.3L281.9 784.8L284.7 786.5L287.8 788.7L290.6 791.6L293.6 793.7L296.5 789.9L299.8 780.3L302.9 776.9L305.7 770.6L308.8 764.7L311.6 772.2L314.6 774.8L317.5 771.4L323.4 776.9L326.4 773.1L329.3 769.2L332.3 771.4L335.2 772.2L338.2 768.0L341.0 760.1L344.1 758.5L346.9 764.2L349.9 763.8L353.3 766.9L356.2 767.2L359.0 767.5L362.0 770.6L365.1 771.9L367.9 776.4L370.9 780.6L373.8 775.9L376.8 762.5L379.7 764.7L382.5 761.3L385.6 763.8L388.9 766.0L391.4 764.7L394.8 753.8L397.8 748.7L400.7 746.7L403.7 752.1L406.6 749.1L409.4 735.6L412.4 729.9L415.5 733.3L418.3 731.1L421.3 727.7L424.2 730.6L427.2 729.9L430.1 744.5L433.1 744.5L435.9 745.7L439.0 740.0L441.8 739.0L444.9 744.0L447.7 744.5L450.7 750.1L453.6 745.0L456.9 753.8L459.8 755.1L462.8 759.1L465.7 758.5L468.7 760.1L471.6 761.8L474.6 757.1L477.4 757.5L480.5 752.9L483.5 755.8L486.3 758.8L489.4 761.8L492.2 764.3L495.2 755.4L498.1 758.0L501.5 755.1L504.5 752.9L507.3 751.2L510.4 751.7L513.2 754.1L516.2 759.1L519.1 763.5L522.1 768.5L525.0 775.3L528.0 772.6L530.9 775.9L533.9 780.3L536.7 779.0L539.8 772.6L542.6 766.4L545.6 760.8L548.5 764.7L551.5 765.5L554.4 757.1L557.4 749.6L560.3 747.4L563.3 749.1L566.1 751.7L569.5 754.1L572.5 758.0L575.4 754.1L578.4 760.8L581.3 764.2L584.3 760.5L587.1 760.8L590.2 763.8L593.0 768.0L595.5 767.2L598.9 773.9L601.9 779.0L604.8 783.7L607.8 786.0L610.6 779.8L613.7 779.8L617.0 780.6L619.9 777.6L622.9 778.6L625.8 784.5L628.8 783.2L631.6 785.7L634.2 786.0L637.6 776.9L640.4 782.3L643.4 789.0L646.5 792.1L649.3 794.1L652.3 796.1L655.2 799.1L658.2 783.7L661.1 787.7L664.1 785.3L667.0 786.5L670.3 789.0L673.3 784.8L676.2 776.4L679.1 776.4L682.1 765.8L685.1 768.9L688.0 772.2L691.0 774.8L693.8 776.4L696.9 781.0L699.7 776.4L702.7 775.3L705.6 777.3L708.6 776.4L711.5 778.1L714.5 773.1L717.4 778.1L720.7 783.7L723.7 788.2L726.6 789.0L729.6 765.5L732.5 761.3L735.5 759.1L738.3 760.1L741.4 759.1L744.2 763.5L747.3 731.9L750.1 727.7L753.1 726.9L756.0 728.9L759.0 723.5L761.9 718.8L764.9 725.2L768.1 717.3L771.1 725.5L774.1 725.2L777.0 723.9L780.0 718.8L782.9 717.1L785.9 724.4L788.7 728.6L791.8 727.7L794.6 726.9L797.6 726.0L800.5 727.2L803.5 724.9L806.4 723.9L809.4 721.5L812.8 719.3L815.6 725.2L818.5 734.9L821.5 733.6L824.5 729.9L827.4 734.9L829.9 733.6L832.9 741.2L836.3 755.1L839.1 750.4L842.2 746.2L845.0 744.0L848.0 743.7L850.9 745.7L853.9 742.8L856.8 747.0L859.8 744.5L862.7 738.3L866.0 724.4L868.9 721.8L871.9 731.1L874.8 745.7L877.8 741.2L880.6 746.7L883.7 746.2L886.7 752.1L889.5 753.4L892.6 754.6L895.4 756.3L898.4 761.3L901.3 765.8L904.3 770.2L907.2 772.2L910.2 774.4L913.1 765.5L916.1 770.2L918.9 768.9L922.0 764.7L924.8 765.5L927.8 760.1L930.7 755.1L934.0 751.7L937.1 747.5L939.9 754.6L943.0 757.5L945.8 761.3L948.4 753.8L951.7 752.1L954.7 750.7L957.6 760.1L960.6 752.1L963.5 755.4L966.5 761.3L969.4 760.1L972.4 758.5L975.2 764.2L978.6 758.8L981.6 757.5L984.5 758.0L987.5 764.2L990.4 763.0L993.4 758.5L996.2 762.2L999.3 766.4L1002.1 765.2L1005.1 763.5L1008.0 766.9L1011.0 766.9L1013.9 766.9L1016.9 757.1L1019.8 760.5L1022.8 766.7L1025.6 760.5L1028.7 755.8L1031.5 763.0L1034.5 759.1L1037.4 758.8L1040.8 752.9L1043.8 759.1L1046.6 757.5L1049.7 755.9L1052.5 750.1L1055.5 750.7L1058.4 752.4L1061.4 748.7L1064.3 746.7L1067.3 745.4L1070.1 758.8L1073.2 759.6L1076.0 762.5L1079.4 767.5L1082.4 770.6L1085.3 768.0L1088.3 770.2L1091.1 760.5L1094.2 759.6L1097.0 754.1L1099.5 742.8L1102.1 737.8L1105.4 734.4L1108.8 738.3L1111.6 734.9L1114.7 733.3L1117.7 726.9L1120.5 718.1L1123.6 715.5L1126.4 711.4L1129.4 710.4L1132.3 708.4L1135.3 706.4L1138.2 704.5L1141.2 709.2L1144.1 711.4L1147.1 710.4L1149.9 733.6L1153.0 732.3L1156.3 737.3L1159.2 731.1L1162.2 731.9L1165.1 733.3L1168.1 730.6L1170.9 730.6L1174.0 735.6L1176.8 734.9L1179.8 737.3L1182.7 747.4L1185.7 746.7L1188.6 745.0L1191.6 745.4L1195.0 744.5L1197.8 751.2L1200.8 759.6L1203.7 759.1L1206.7 769.2L1209.6 770.2L1212.6 772.6L1215.5 774.8L1218.5 774.2L1221.3 767.5L1224.4 773.1L1227.2 779.8L1230.2 782.6L1233.1 775.9L1236.1 779.0L1239.0 777.6L1242.0 780.6L1245.4 783.2L1248.2 786.5L1250.7 769.2L1253.8 772.6L1256.6 775.9L1259.6 771.4L1263.0 774.8L1265.9 780.6L1268.9 786.5L1271.8 783.7L1274.8 773.1L1277.6 775.6L1280.7 773.1L1283.5 763.0L1286.5 771.4L1289.4 772.2L1292.4 768.0L1295.3 771.4L1298.3 772.6L1301.2 771.4L1304.2 768.0L1307.0 763.8L1310.1 759.6L1313.4 756.8L1316.3 759.6L1319.3 760.5L1322.2 752.4L1325.2 755.4L1328.0 762.2L1331.1 765.2L1333.9 755.1L1336.9 758.5L1339.8 762.2L1342.8 756.8L1345.7 758.0L1348.7 747.0L1351.6 744.5L1354.9 749.6L1357.9 753.8L1360.8 747.9L1363.6 742.0L1366.7 746.2L1369.7 747.0L1372.5 747.9L1375.6 749.1L1378.4 755.1L1381.5 756.8L1384.3 763.5L1387.3 751.2L1390.2 755.4L1393.2 756.8L1396.1 752.4L1399.1 755.1L1401.9 766.7L1405.0 765.2L1407.8 750.4L1410.8 736.6L1413.7 740.7L1416.7 735.3L1419.6 731.1L1422.6 729.9L1426.0 725.5L1428.8 724.4L1431.8 722.2L1435.0 718.8L1437.7 727.7L1440.6 721.5L1443.6 726.5L1446.8 726.0L1449.8 737.8L1452.8 747.0L1455.7 748.7L1458.7 749.1L1461.6 752.1L1464.6 750.7L1467.5 744.5L1470.5 749.6L1473.3 747.9L1476.4 750.1L1479.2 749.1L1482.2 753.8L1485.1 751.7L1488.1 750.1L1491.3 744.0L1494.3 750.4L1497.4 749.2L1500.2 747.4L1503.2 747.0L1506.1 745.7L1509.1 746.2L1512.0 748.4L1515.0 743.3L1517.9 748.4L1520.9 746.2L1523.7 749.6L1527.1 749.1L1529.6 762.2L1532.6 777.3L1535.5 777.3L1538.9 770.6L1541.9 765.0L1544.7 765.5L1547.8 774.8L1550.6 771.4L1553.6 772.2L1556.5 768.5L1559.8 768.0L1562.4 772.2L1565.4 760.1L1568.2 760.1L1571.3 766.4L1574.1 770.6L1578.0 773.1L1580.9 775.3L1583.9 776.4L1586.8 779.3L1589.3 776.4L1592.3 780.3L1595.2 781.5L1598.2 776.4L1600.7 774.8L1603.6 765.2L1606.6 764.7L1609.4 760.1L1612.8 758.0L1616.2 756.8L1619.0 757.1L1621.7 757.5L1624.6 746.2L1627.9 737.8L1631.3 731.1L1634.6 725.2L1637.2 721.8L1639.7 720.2L1642.7 716.8L1645.6 723.2L1648.4 717.1L1651.4 723.5L1654.3 732.8L1657.3 738.6L1660.3 738.6L1663.2 744.0L1666.2 750.4L1669.1 767.2L1672.1 765.8L1674.9 756.8L1678.0 758.8L1680.8 761.3L1683.9 761.3L1686.7 745.4L1689.7 744.5L1692.6 738.6L1695.6 728.6" stroke="#111" stroke-width="1.2" fill="none" stroke-linejoin="round"/>
<g stroke="#00008b" fill="none">
<path d="M1138.2 704.5L1778.6 721.3" stroke-width="1.6"/>
<path d="M1138.2 704.5L1775.7 736.1" stroke-width="1.6"/>
<path d="M655.2 800L1769.9 777.3" stroke-width="2.8"/>
</g>
<path d="M3.0 876.5L6.0 881.1L9.0 888.6L11.9 896.4L14.9 902.4L17.9 905.4L20.9 906.2L23.9 906.3L26.9 906.6L29.9 905.1L32.9 902.3L35.9 900.5L38.9 903.1L41.8 907.2L44.8 908.2L47.8 903.4L50.8 895.6L53.8 890.0L56.8 888.4L59.8 889.6L62.8 886.7L65.8 879.0L68.8 867.1L71.7 860.8L74.7 858.9L77.7 859.6L80.7 857.1L83.7 854.4L86.7 853.9L89.7 857.1L92.7 863.9L95.7 871.8L98.6 876.6L101.6 878.3L104.6 879.8L107.6 885.3L110.6 890.3L113.6 891.9L116.6 889.4L119.6 887.4L122.6 888.7L125.6 893.6L128.5 900.1L131.5 905.8L134.5 908.8L137.5 908.3L140.5 905.5L143.5 902.8L146.5 901.3L149.5 901.4L152.5 900.4L155.5 895.6L158.5 885.4L161.4 874.3L164.4 864.8L167.4 858.8L170.4 854.9L173.4 854.6L176.4 859.0L179.4 867.4L182.4 876.7L185.4 884.4L188.4 888.0L191.3 888.9L194.3 888.3L197.3 888.3L200.3 887.7L203.3 885.9L206.3 884.8L209.3 887.4L212.3 893.4L215.3 899.0L218.3 901.4L221.2 902.2L224.2 903.6L227.2 905.7L230.2 907.4L233.2 908.4L236.2 909.3L239.2 909.8L242.2 909.6L245.2 908.8L248.2 908.2L251.1 908.2L254.1 908.4L257.1 908.8L260.1 909.1L263.1 909.5L266.1 909.7L269.1 908.6L272.1 904.9L275.1 898.4L278.1 891.8L281.0 888.1L284.0 888.7L287.0 892.8L290.0 898.9L293.0 905.2L296.0 909.0L299.0 909.1L302.0 904.6L305.0 895.7L308.0 883.7L310.9 873.2L313.9 868.5L316.9 871.2L319.9 877.1L322.9 883.1L325.9 888.8L328.9 894.3L331.9 898.4L334.9 899.9L337.9 900.0L340.8 894.9L343.8 883.8L346.8 870.6L349.8 866.4L352.8 872.5L355.8 882.4L358.8 890.2L361.8 895.6L364.8 900.7L367.8 905.6L370.7 908.7L373.7 908.9L376.7 903.1L379.7 893.6L382.7 881.8L385.7 874.1L388.7 870.6L391.7 871.5L394.7 870.3L397.7 865.3L400.6 857.5L403.6 854.5L406.6 856.1L409.6 858.3L412.6 856.7L415.6 853.6L418.6 851.6L421.6 850.8L424.6 849.9L427.6 849.3L430.5 852.4L433.5 858.5L436.5 866.2L439.5 870.8L442.5 872.4L445.5 872.6L448.5 874.4L451.5 878.8L454.5 882.7L457.5 886.5L460.4 890.1L463.4 895.7L466.4 900.0L469.4 902.5L472.4 901.9L475.4 900.6L478.4 897.7L481.4 893.5L484.4 889.2L487.4 886.7L490.3 888.2L493.3 891.4L496.3 893.4L499.3 890.9L502.3 884.8L505.3 878.4L508.3 871.6L511.3 865.7L514.3 863.0L517.3 866.8L520.2 876.8L523.2 888.5L526.2 897.6L529.2 902.6L532.2 904.9L535.2 906.2L538.2 906.4L541.2 904.6L544.2 899.6L547.2 892.0L550.1 883.7L553.1 875.8L556.1 867.9L559.1 859.2L562.1 851.9L565.1 848.8L568.1 850.7L571.1 856.1L574.1 862.5L577.1 869.2L580.0 876.2L583.0 883.8L586.0 890.3L589.0 894.6L592.0 897.4L595.0 900.5L598.0 904.0L601.0 906.5L604.0 907.9L607.0 908.4L609.9 908.4L612.9 907.2L615.9 905.1L618.9 902.9L621.9 901.4L624.9 901.0L627.9 901.5L630.9 903.0L633.9 903.6L636.9 902.2L639.8 898.7L642.8 895.9L645.8 897.2L648.8 901.8L651.8 906.7L654.8 908.9L657.8 908.0L660.8 906.5L663.8 904.7L666.8 904.7L669.7 905.0L672.7 905.2L675.7 902.8L678.7 896.3L681.7 885.1L684.7 872.7L687.7 864.6L690.7 865.5L693.7 873.5L696.7 884.5L699.6 892.9L702.6 897.1L705.6 897.6L708.6 897.2L711.6 898.3L714.6 899.8L717.6 902.0L720.6 903.5L723.6 905.8L726.6 905.6L729.5 899.9L732.5 888.8L735.5 874.2L738.5 862.9L741.5 856.3L744.5 855.2L747.5 854.6L750.5 853.9L753.5 851.8L756.5 851.4L759.4 850.6L762.4 849.8L765.4 848.2L768.4 847.4L771.4 848.1L774.4 848.9L777.4 849.6L780.4 848.8L783.4 847.8L786.4 847.4L789.3 849.9L792.3 854.2L795.3 857.9L798.3 859.3L801.3 858.8L804.3 856.9L807.3 854.0L810.3 850.4L813.3 848.7L816.3 850.3L819.2 856.8L822.2 864.8L825.2 870.8L828.2 872.6L831.2 873.1L834.2 876.5L837.2 882.7L840.2 888.4L843.2 887.7L846.2 881.6L849.1 873.5L852.1 868.4L855.1 866.0L858.1 864.4L861.1 861.6L864.1 857.2L867.1 852.4L870.1 850.3L873.1 853.2L876.1 860.6L879.0 869.7L882.0 876.7L885.0 881.5L888.0 885.8L891.0 891.0L894.0 896.7L897.0 901.8L900.0 905.5L903.0 907.6L906.0 908.3L908.9 908.2L911.9 906.6L914.9 903.2L917.9 898.9L920.9 895.3L923.9 892.7L926.9 888.6L929.9 881.1L932.9 869.9L935.9 859.4L938.8 852.8L941.8 853.6L944.8 860.9L947.8 870.2L950.8 876.1L953.8 874.8L956.8 872.9L959.8 872.6L962.8 876.7L965.8 880.6L968.7 885.7L971.7 891.1L974.7 894.7L977.7 894.0L980.7 889.5L983.7 883.8L986.7 880.5L989.7 880.3L992.7 882.8L995.7 883.9L998.6 884.3L1001.6 886.2L1004.6 890.2L1007.6 894.7L1010.6 898.4L1013.6 901.9L1016.6 900.6L1019.6 895.2L1022.6 889.3L1025.6 887.4L1028.5 885.3L1031.5 879.6L1034.5 873.1L1037.5 872.3L1040.5 870.8L1043.5 870.4L1046.5 867.5L1049.5 869.8L1052.5 869.3L1055.5 867.0L1058.4 861.7L1061.4 858.6L1064.4 856.3L1067.4 854.3L1070.4 857.0L1073.4 866.7L1076.4 883.5L1079.4 897.5L1082.4 905.7L1085.4 906.6L1088.3 904.0L1091.3 899.3L1094.3 893.8L1097.3 886.9L1100.3 878.3L1103.3 868.6L1106.3 860.2L1109.3 856.3L1112.3 854.6L1115.3 854.0L1118.2 851.4L1121.2 848.8L1124.2 846.4L1127.2 845.4L1130.2 845.5L1133.2 845.9L1136.2 846.5L1139.2 847.8L1142.2 850.4L1145.2 853.7L1148.1 857.1L1151.1 861.4L1154.1 867.5L1157.1 874.7L1160.1 880.8L1163.1 884.7L1166.1 886.2L1169.1 884.7L1172.1 880.4L1175.1 875.1L1178.0 871.5L1181.0 871.2L1184.0 874.8L1187.0 882.1L1190.0 889.9L1193.0 894.5L1196.0 895.9L1199.0 896.9L1202.0 900.7L1205.0 905.3L1207.9 907.6L1210.9 906.6L1213.9 904.1L1216.9 903.0L1219.9 903.0L1222.9 903.4L1225.9 903.5L1228.9 903.9L1231.9 903.6L1234.9 902.6L1237.8 900.6L1240.8 899.9L1243.8 900.9L1246.8 903.2L1249.8 903.7L1252.8 901.4L1255.8 897.0L1258.8 893.7L1261.8 892.9L1264.8 894.6L1267.7 898.0L1270.7 901.8L1273.7 902.7L1276.7 899.9L1279.7 894.6L1282.7 889.1L1285.7 885.0L1288.7 882.8L1291.7 883.6L1294.7 885.5L1297.6 887.8L1300.6 890.6L1303.6 893.5L1306.6 895.1L1309.6 891.5L1312.6 882.8L1315.6 872.1L1318.6 863.7L1321.6 859.9L1324.6 859.2L1327.5 861.2L1330.5 867.0L1333.5 874.1L1336.5 879.1L1339.5 880.3L1342.5 880.9L1345.5 882.3L1348.5 878.5L1351.5 871.6L1354.5 862.6L1357.4 861.6L1360.4 864.1L1363.4 866.5L1366.4 863.4L1369.4 859.0L1372.4 858.0L1375.4 860.6L1378.4 866.7L1381.4 874.7L1384.4 886.6L1387.3 893.2L1390.3 896.0L1393.3 891.5L1396.3 888.9L1399.3 885.8L1402.3 886.7L1405.3 890.7L1408.3 890.8L1411.3 883.7L1414.3 869.3L1417.2 857.8L1420.2 851.6L1423.2 848.9L1426.2 847.5L1429.2 846.3L1432.2 845.8L1435.2 845.7L1438.2 847.0L1441.2 848.9L1444.2 851.5L1447.1 853.5L1450.1 857.2L1453.1 864.6L1456.1 877.0L1459.1 891.1L1462.1 901.9L1465.1 906.8L1468.1 905.7L1471.1 901.9L1474.1 897.9L1477.0 895.7L1480.0 893.1L1483.0 890.7L1486.0 887.4L1489.0 884.3L1492.0 879.0L1495.0 874.3L1498.0 871.0L1501.0 870.5L1504.0 869.1L1506.9 866.8L1509.9 864.4L1512.9 863.2L1515.9 862.7L1518.9 862.7L1521.9 863.5L1524.9 866.0L1527.9 870.4L1530.9 878.5L1533.9 889.5L1536.8 900.0L1539.8 904.2L1542.8 901.4L1545.8 896.0L1548.8 893.8L1551.8 895.4L1554.8 898.1L1557.8 898.4L1560.8 896.7L1563.8 893.0L1566.7 887.6L1569.7 881.1L1572.7 878.1L1575.7 882.2L1578.7 891.5L1581.7 900.6L1584.7 905.5L1587.7 907.2L1590.7 907.6L1593.7 907.5L1596.6 905.7L1599.6 901.2L1602.6 893.6L1605.6 883.9L1608.6 872.8L1611.6 863.1L1614.6 856.4L1617.6 854.0L1620.6 854.1L1623.6 854.2L1626.5 853.3L1629.5 851.5L1632.5 850.1L1635.5 848.4L1638.5 847.5L1641.5 846.5L1644.5 847.2L1647.5 847.7L1650.5 848.6L1653.5 849.5L1656.4 852.9L1659.4 858.6L1662.4 866.5L1665.4 876.1L1668.4 887.8L1671.4 898.2L1674.4 903.5L1677.4 901.9L1680.4 897.7L1683.4 895.0L1686.3 891.7L1689.3 883.7L1692.3 869.7L1695.3 856.5L1695.6 855.3" stroke="#e0261c" stroke-width="1.2" fill="none" stroke-linejoin="round"/>
<path d="M0.0 874.5L3.4 881.2L6.7 890.4L10.1 900.5L12.6 904.7L15.5 906.9L18.5 905.9L21.5 905.9L24.4 907.2L26.9 906.9L29.9 901.4L32.8 898.5L35.8 901.4L38.6 908.9L41.7 911.4L44.5 905.6L47.5 895.5L50.4 887.4L53.8 887.9L56.6 889.6L59.3 893.0L62.5 880.4L65.5 867.8L68.4 854.8L71.4 860.2L74.4 861.0L77.3 858.5L80.3 853.1L82.8 851.8L85.7 854.3L89.0 860.2L92.1 871.1L94.9 880.7L98.3 876.7L101.1 877.3L104.1 882.9L107.2 893.0L110.0 894.1L112.9 890.4L115.9 885.4L118.9 886.2L121.8 891.3L124.8 898.5L127.7 905.2L130.7 910.6L133.5 910.3L136.6 906.4L139.4 903.0L142.8 900.8L145.8 900.2L148.7 903.5L151.7 899.7L154.5 892.1L157.6 874.5L160.4 866.1L163.4 860.2L166.3 855.2L169.3 851.5L172.2 854.3L175.2 861.9L178.1 874.5L181.1 882.0L184.4 890.8L187.0 888.4L189.8 889.1L192.8 886.7L195.7 889.6L198.7 887.9L201.6 884.6L204.9 881.7L208.0 889.6L210.8 899.2L213.8 903.0L216.7 900.8L219.7 901.4L222.6 905.2L225.6 907.2L228.5 907.6L231.5 908.9L234.3 909.8L237.4 910.6L240.2 909.2L243.2 908.6L246.1 907.6L249.1 908.1L252.0 908.9L255.0 908.6L257.9 909.2L260.9 909.8L263.7 909.8L266.8 909.8L269.6 905.6L272.6 897.2L275.5 888.8L278.5 886.2L281.4 887.9L284.4 892.1L287.3 899.7L290.6 907.2L293.6 911.4L296.5 910.3L299.5 905.6L302.4 895.5L305.7 880.4L308.8 866.9L311.6 864.9L314.6 871.1L317.5 880.4L320.5 883.7L323.4 888.8L326.4 896.8L329.3 900.2L332.3 900.2L335.2 899.7L338.2 900.2L341.0 883.7L344.1 864.9L346.9 860.5L349.9 872.8L352.8 884.6L355.8 890.4L358.7 895.5L361.7 900.5L364.6 905.6L367.6 910.3L370.4 910.3L373.5 907.6L376.3 894.6L379.3 882.9L382.2 871.1L385.6 869.9L388.6 870.6L391.4 874.5L394.5 866.9L397.3 856.5L400.3 849.8L403.2 856.8L406.6 860.5L409.1 858.2L412.1 852.6L414.9 851.0L418.0 851.8L420.8 850.1L423.9 848.4L427.2 848.8L430.1 857.7L433.1 865.6L435.9 872.8L439.0 873.3L441.8 871.1L444.9 872.8L447.7 876.2L450.7 884.6L453.6 884.1L456.6 888.8L459.5 891.8L462.5 902.2L465.3 902.5L468.4 903.0L471.2 901.4L474.2 899.7L477.1 897.2L480.5 888.4L483.5 886.7L486.3 884.1L489.7 891.3L492.7 896.3L495.6 893.5L498.1 888.8L501.1 879.0L504.5 875.0L507.3 866.9L510.4 859.4L513.2 861.0L516.2 871.1L519.1 885.4L522.1 897.2L525.0 903.0L528.0 904.2L530.9 905.9L533.9 906.9L536.7 907.6L539.8 903.9L542.6 897.5L545.6 887.1L548.5 879.5L551.5 872.8L554.4 865.2L557.4 854.8L560.3 846.4L563.3 847.1L566.1 851.5L569.2 857.7L572.0 865.6L575.0 870.6L577.9 877.8L580.9 886.2L583.8 893.8L586.8 895.8L589.7 896.8L592.7 901.4L595.5 905.2L598.9 908.1L601.9 907.6L604.8 908.9L608.1 908.9L611.2 906.9L614.0 903.9L617.0 901.9L619.9 900.8L622.9 900.2L625.8 901.9L628.8 903.0L631.6 905.6L635.0 902.2L638.1 895.8L640.9 893.5L643.9 895.8L646.8 905.6L649.8 909.8L652.7 909.2L655.7 908.9L658.6 904.2L661.6 905.2L664.4 903.0L667.5 906.4L670.3 905.6L673.3 903.9L676.2 897.5L679.2 883.7L682.1 868.6L685.1 860.5L688.0 861.9L691.0 874.5L693.8 886.2L696.9 895.5L699.7 898.5L702.7 898.0L705.6 896.3L708.6 897.2L711.8 901.9L714.8 900.5L717.7 903.9L720.7 906.4L723.7 907.6L726.6 903.0L729.6 888.8L732.5 874.5L735.5 859.4L738.3 855.2L741.4 854.3L744.2 856.5L747.3 853.1L750.1 852.6L753.1 849.8L756.0 852.1L759.0 850.1L761.9 848.1L764.9 846.8L767.7 847.1L771.1 849.8L774.1 849.3L777.0 850.1L780.0 847.6L782.9 845.9L785.9 847.6L788.7 853.8L791.8 858.9L794.6 860.2L797.6 858.9L800.5 858.9L803.5 854.8L806.4 851.8L809.4 846.4L812.3 848.1L815.3 851.0L818.1 862.7L821.2 872.8L824.0 873.3L827.0 872.8L829.9 869.9L832.9 880.4L836.3 888.4L839.1 894.6L842.2 885.1L845.0 874.5L848.0 867.8L850.9 866.6L853.9 864.9L856.8 864.4L859.8 860.2L862.7 854.3L865.7 848.4L868.5 848.1L871.6 853.8L874.4 866.1L877.4 874.5L880.3 881.2L883.3 881.2L886.2 887.9L889.2 893.0L892.1 899.2L895.1 903.9L898.4 908.1L901.3 908.1L904.3 908.9L907.2 908.1L910.2 907.2L913.1 901.4L916.1 896.3L918.9 893.8L922.0 892.5L924.8 889.6L927.8 879.0L930.7 866.9L933.7 853.1L937.1 849.3L939.9 851.8L943.0 863.9L945.8 877.0L948.4 879.0L951.4 876.7L954.6 866.1L957.6 875.3L960.5 876.7L963.5 882.4L966.5 885.1L969.4 893.5L972.4 898.5L975.2 894.1L978.6 887.9L981.6 882.4L984.5 876.2L987.5 880.7L990.4 884.6L993.4 885.4L996.2 882.4L999.3 885.4L1002.1 891.8L1005.1 895.8L1008.0 898.5L1011.0 902.5L1013.9 905.9L1016.9 893.0L1019.8 885.4L1022.8 887.9L1025.6 888.8L1028.7 879.0L1031.5 870.6L1034.5 869.4L1037.4 877.3L1040.4 866.1L1043.3 868.3L1046.3 867.8L1049.1 873.6L1052.2 867.3L1055.0 861.9L1058.1 857.2L1060.9 857.7L1063.9 855.2L1067.1 850.1L1070.1 863.6L1073.2 882.0L1076.0 901.4L1079.1 906.9L1081.9 908.6L1084.9 905.2L1087.8 900.5L1090.8 894.6L1093.7 890.1L1096.7 881.2L1099.5 870.3L1102.6 861.0L1105.4 852.6L1108.4 856.8L1111.3 854.3L1114.3 853.1L1117.2 849.3L1120.2 846.8L1123.1 844.7L1126.1 845.1L1128.9 845.9L1132.0 846.4L1134.8 845.9L1137.8 848.4L1140.7 851.8L1143.7 856.5L1146.6 857.7L1149.6 862.7L1152.5 870.3L1155.5 879.5L1158.3 883.7L1161.4 886.2L1164.7 887.9L1167.6 884.6L1170.6 877.0L1173.5 871.1L1176.5 869.9L1179.3 870.3L1182.4 875.3L1185.2 885.4L1188.2 896.3L1191.1 896.8L1194.1 894.1L1197.0 896.8L1200.0 901.4L1202.9 908.9L1205.9 909.8L1208.7 905.6L1212.1 902.5L1215.1 901.9L1218.0 904.2L1221.0 903.0L1223.9 903.5L1226.9 903.5L1229.7 905.2L1232.8 901.4L1235.6 900.2L1239.0 898.0L1242.0 902.2L1244.8 903.9L1247.9 906.9L1250.7 899.7L1253.8 894.6L1256.6 891.8L1259.6 892.5L1263.0 894.6L1265.9 899.7L1268.9 904.2L1271.8 905.9L1274.8 897.2L1277.6 893.0L1280.7 887.4L1283.5 882.4L1286.5 881.7L1289.4 882.9L1292.4 887.4L1295.3 887.9L1298.3 889.6L1301.2 895.8L1304.2 896.8L1307.5 893.0L1310.4 880.4L1313.4 866.9L1316.3 860.2L1319.3 858.2L1322.2 859.4L1325.2 859.9L1328.0 865.6L1331.1 879.0L1333.9 881.2L1336.9 879.5L1339.8 880.4L1342.8 882.9L1345.7 884.1L1348.7 867.8L1351.6 861.5L1354.9 856.5L1357.9 867.8L1360.8 869.4L1363.8 863.6L1366.7 856.0L1369.7 856.0L1372.5 861.5L1375.6 864.9L1378.4 874.5L1381.5 885.4L1384.3 900.5L1387.3 894.1L1390.2 893.8L1393.2 887.1L1396.1 886.2L1399.1 884.1L1401.9 888.8L1405.3 898.0L1408.3 884.6L1411.2 868.6L1414.2 854.8L1417.1 850.5L1419.6 850.5L1422.6 846.8L1425.5 846.4L1428.5 845.9L1431.3 845.4L1434.7 845.4L1437.7 849.3L1440.6 850.5L1443.6 853.8L1446.5 854.3L1449.5 859.4L1452.3 872.0L1455.4 888.8L1458.2 903.0L1461.2 908.6L1464.1 908.9L1467.1 903.0L1470.0 898.5L1473.3 894.6L1476.4 896.3L1479.2 889.6L1482.2 889.1L1485.1 885.1L1488.1 883.7L1491.0 872.8L1494.0 870.6L1496.9 869.9L1499.9 872.0L1502.7 867.8L1506.1 863.9L1509.1 863.2L1512.0 863.2L1515.0 861.5L1517.9 863.2L1520.9 863.2L1523.7 868.6L1526.8 871.6L1529.6 883.7L1532.6 897.5L1535.5 909.8L1538.5 905.6L1541.4 898.0L1544.4 890.4L1547.3 893.0L1550.3 897.5L1553.6 901.4L1556.5 897.5L1559.5 894.6L1562.4 893.0L1565.4 883.7L1568.2 876.2L1571.3 872.8L1574.1 886.2L1577.5 899.7L1580.5 906.9L1583.4 906.9L1586.4 907.6L1589.3 907.6L1592.3 908.6L1595.2 905.2L1598.2 898.8L1601.0 890.4L1604.1 878.7L1606.9 867.8L1609.9 856.5L1612.8 853.8L1615.3 852.1L1618.3 855.2L1621.2 855.2L1624.2 852.6L1627.1 851.5L1630.1 849.3L1633.0 848.8L1636.0 846.4L1638.8 846.8L1642.2 845.9L1645.2 849.8L1648.1 847.6L1651.1 849.3L1654.0 852.1L1657.0 859.4L1659.8 867.3L1662.9 876.7L1665.7 887.9L1668.7 903.0L1672.1 907.6L1674.9 901.4L1678.0 895.1L1680.8 893.8L1683.9 894.6L1686.7 885.4L1689.7 867.8L1692.6 851.0L1695.6 846.4" stroke="#111" stroke-width="1.2" fill="none" stroke-linejoin="round"/>
<path d="M1856.9 0V957" stroke="#727272" stroke-width="1.9" fill="none"/>
<g stroke="#5e5e5e" fill="none">
<path d="M0 925.5H1857" stroke-width="1.4" stroke="#4a4a4a"/>
<path d="M0 941.9H1857M0 957H1857" stroke-width="1.8"/>
<path d="M37.6 925.5V941.9M98.1 925.5V941.9M163.6 925.5V941.9M221.7 925.5V941.9M286.5 925.5V941.9M346.3 925.5V941.9M405.4 925.5V941.9M470.3 925.5V941.9M539.5 925.5V941.9M601.3 925.5V941.9M666.3 925.5V941.9M731.4 925.5V941.9M794.3 925.5V941.9M859.4 925.5V941.9M917.9 925.5V941.9M977.7 925.5V941.9M1045.5 925.5V941.9M1105.3 925.5V941.9M1168.1 925.5V941.9M1233.0 925.5V941.9M1297.9 925.5V941.9M1363.1 925.5V941.9M1428.3 925.5V941.9M1490.4 925.5V941.9M1555.6 925.5V941.9M1624.1 925.5V941.9M1685.6 925.5V941.9M1745.4 925.5V941.9M1812.9 925.5V941.9M98.1 941.9V957M859.4 941.9V957M1624.1 941.9V957" stroke-width="1.8"/>
</g>
<g font-family="Liberation Sans, Arial, sans-serif" font-size="12" fill="#999">
<text x="1.5" y="937.8">Nov</text>
<text x="39.5" y="937.8">Dec</text>
<text x="100.0" y="937.8">Jan</text>
<text x="165.5" y="937.8">Feb</text>
<text x="223.6" y="937.8">Mar</text>
<text x="288.4" y="937.8">Apr</text>
<text x="348.2" y="937.8">May</text>
<text x="407.3" y="937.8">Jun</text>
<text x="472.2" y="937.8">Jul</text>
<text x="541.4" y="937.8">Aug</text>
<text x="603.2" y="937.8">Sep</text>
<text x="668.2" y="937.8">Oct</text>
<text x="733.3" y="937.8">Nov</text>
<text x="796.2" y="937.8">Dec</text>
<text x="861.3" y="937.8">Jan</text>
<text x="919.8" y="937.8">Feb</text>
<text x="979.6" y="937.8">Mar</text>
<text x="1047.4" y="937.8">Apr</text>
<text x="1107.2" y="937.8">May</text>
<text x="1170.0" y="937.8">Jun</text>
<text x="1234.9" y="937.8">Jul</text>
<text x="1299.8" y="937.8">Aug</text>
<text x="1365.0" y="937.8">Sep</text>
<text x="1430.2" y="937.8">Oct</text>
<text x="1492.3" y="937.8">Nov</text>
<text x="1557.5" y="937.8">Dec</text>
<text x="1626.0" y="937.8">Jan</text>
<text x="1687.5" y="937.8">Feb</text>
<text x="1747.3" y="937.8">Mar</text>
<text x="1814.8" y="937.8">Apr</text>
<text x="48.0" y="953.4" text-anchor="middle">2019</text>
<text x="478.5" y="953.4" text-anchor="middle">2020</text>
<text x="1240.7" y="953.4" text-anchor="middle">2021</text>
<text x="1765.5" y="953.4" text-anchor="middle">2022</text>
</g>
<g font-family="Liberation Sans, Arial, sans-serif" font-size="12.3" fill="#9b9b9b">
<text x="1860.8" y="17.6">0.2250</text>
<text x="1860.8" y="121.4">0.2000</text>
<text x="1860.8" y="434.9">0.1250</text>
<text x="1860.8" y="538.8">0.1000</text>
<text x="1860.8" y="642.3">0.0750</text>
<text x="1860.8" y="695.3">100.00</text>
<text x="1860.8" y="727">75.00</text>
<text x="1860.8" y="758.5">50.00</text>
<text x="1860.8" y="821.3">0.00</text>
<text x="1860.8" y="847">100.00</text>
<text x="1860.8" y="881.7">50.00</text>
<text x="1860.8" y="916.3">0.00</text>
</g>
<rect x="0" y="677.1" width="1905" height="4" fill="#eeeeee"/>
<rect x="0" y="828.5" width="1905" height="4" fill="#eeeeee"/>
<path d="M1859.5 116.0H1900.5V134.6H1859.5V128.8L1856.4 125.3L1859.5 121.8Z" fill="#3094de"/>
<text x="1861.6" y="128.6" font-family="Liberation Sans, Arial, sans-serif" font-size="12.5" fill="#fff" stroke="#fff" stroke-width="0.25" letter-spacing="0">0.1986</text>
<path d="M1859.5 188.5H1900.5V205.5H1859.5V200.5L1856.4 197.0L1859.5 193.5Z" fill="#3094de"/>
<text x="1861.6" y="200.3" font-family="Liberation Sans, Arial, sans-serif" font-size="12.5" fill="#fff" stroke="#fff" stroke-width="0.25" letter-spacing="0">0.1815</text>
<path d="M1859.5 215.3H1900.5V233.8H1859.5V228.1L1856.4 224.6L1859.5 221.1Z" fill="#3094de"/>
<text x="1861.6" y="227.9" font-family="Liberation Sans, Arial, sans-serif" font-size="12.5" fill="#fff" stroke="#fff" stroke-width="0.25" letter-spacing="0">0.1749</text>
<path d="M1859.5 317.4H1900.5V335.9H1859.5V330.1L1856.4 326.6L1859.5 323.1Z" fill="#3094de"/>
<text x="1861.6" y="329.9" font-family="Liberation Sans, Arial, sans-serif" font-size="12.5" fill="#fff" stroke="#fff" stroke-width="0.25" letter-spacing="0">0.1503</text>
<path d="M1859.5 413.9H1900.5V432.4H1859.5V426.7L1856.4 423.2L1859.5 419.7Z" fill="#3094de"/>
<text x="1861.6" y="426.5" font-family="Liberation Sans, Arial, sans-serif" font-size="12.5" fill="#fff" stroke="#fff" stroke-width="0.25" letter-spacing="0">0.1271</text>
<path d="M1859.5 721.2H1894.5V740.0H1859.5V734.1L1856.4 730.6L1859.5 727.1Z" fill="#3094de"/>
<text x="1861.6" y="733.8" font-family="Liberation Sans, Arial, sans-serif" font-size="13" fill="#fff" stroke="#fff" stroke-width="0.25" letter-spacing="-0.6">70.00</text>
<path d="M1859.5 772.9H1894.5V791.6H1859.5V785.7L1856.4 782.2L1859.5 778.7Z" fill="#3094de"/>
<text x="1861.6" y="785.4" font-family="Liberation Sans, Arial, sans-serif" font-size="13" fill="#fff" stroke="#fff" stroke-width="0.25" letter-spacing="-0.6">30.00</text>
<path d="M1859.5 848.9H1894.5V867.6H1859.5V861.8L1856.4 858.3L1859.5 854.8Z" fill="#3094de"/>
<text x="1861.6" y="861.5" font-family="Liberation Sans, Arial, sans-serif" font-size="13" fill="#fff" stroke="#fff" stroke-width="0.25" letter-spacing="-0.6">80.00</text>
<path d="M1859.5 889.9H1894.5V908.6H1859.5V902.8L1856.4 899.3L1859.5 895.8Z" fill="#3094de"/>
<text x="1861.6" y="902.5" font-family="Liberation Sans, Arial, sans-serif" font-size="13" fill="#fff" stroke="#fff" stroke-width="0.25" letter-spacing="-0.6">20.00</text>
<g font-family="Liberation Sans, Arial, sans-serif" font-size="14.5">
<text x="5" y="17.5" fill="#f0f0f0" letter-spacing="0.2">1 D</text>
<text x="43" y="17.5" fill="#f0f0f0" letter-spacing="0.25">BCP:xlis</text>
<text x="133" y="17.5" fill="#1a1a96" style="white-space:pre" letter-spacing="0.38">EMA 20  (1 D)</text>
<text x="232" y="17.5" fill="#1a8a1a" style="white-space:pre" letter-spacing="0.47">EMA 200  (1 D)</text>
<text x="5" y="702" fill="#f0f0f0" letter-spacing="0.25">BCP:xlis</text>
<text x="70" y="702" fill="#2a2a2a" letter-spacing="0.3">RSI 14 Wilder</text>
<text x="5" y="853.3" fill="#ededed" style="white-space:pre" letter-spacing="0.42">BCP:xlis  STOC-S 10; 3; 3</text>
</g>
<g font-family="Liberation Sans, Arial, sans-serif" font-size="12.5" fill="#a8a8a8">
<text x="19" y="920.5">Preço indicativo. Preços com atraso de 15 minutos</text>
<text x="314" y="920.5">Fuso horário: Dublin, Edinburgh, Lisbon, London</text>
</g>
</svg>
</body></html>
